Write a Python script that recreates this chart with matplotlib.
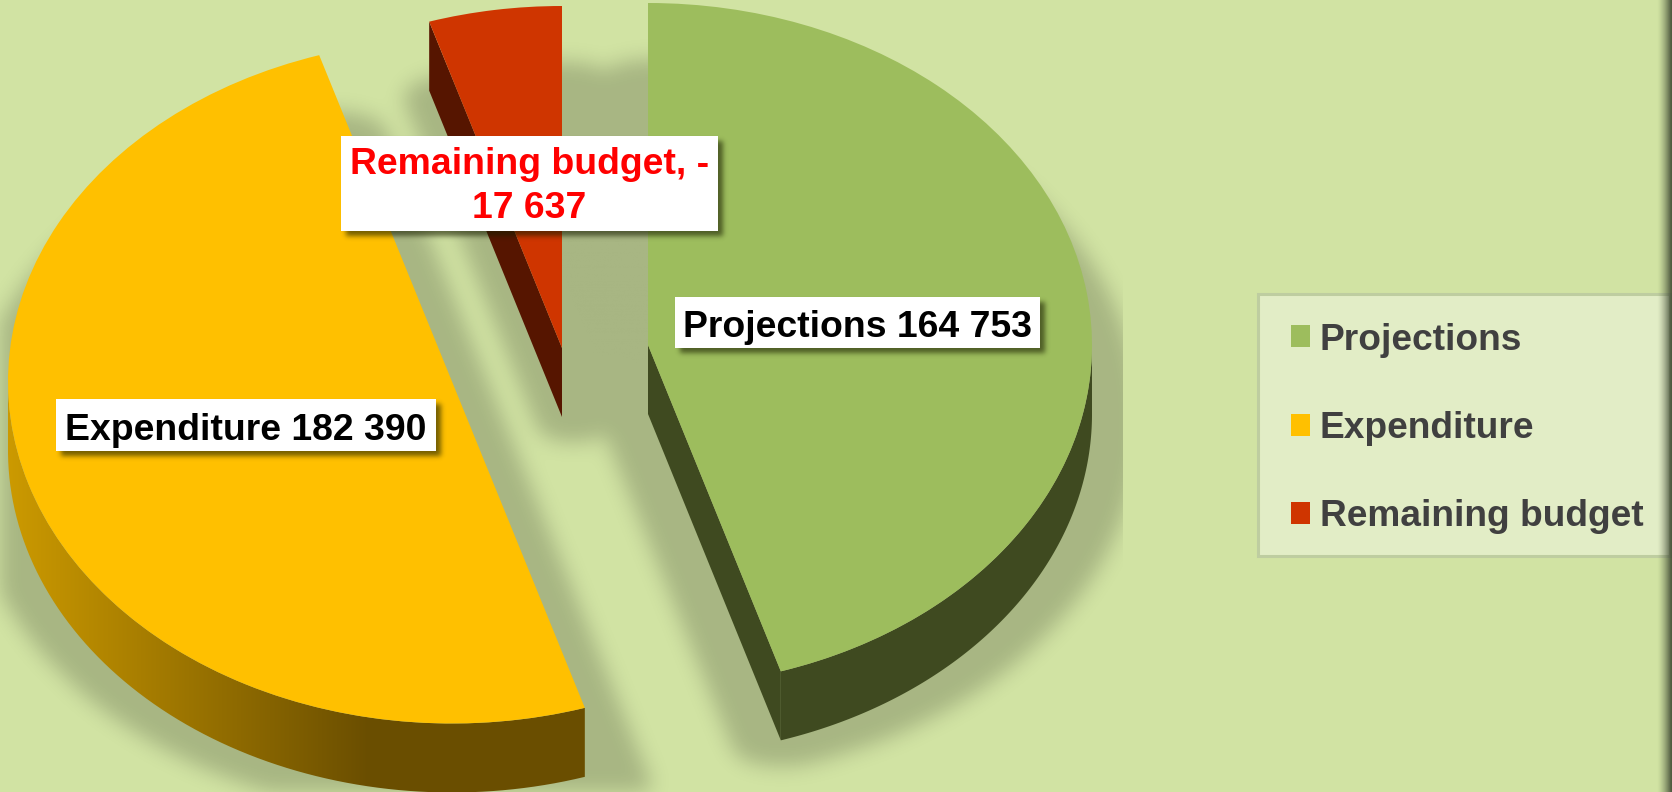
import numpy as np
import matplotlib
matplotlib.use("Agg")
import matplotlib.pyplot as plt
from matplotlib.patches import Patch, Rectangle, PathPatch
from matplotlib.path import Path
from matplotlib.transforms import Affine2D
from matplotlib.colors import to_rgb

# ---- data ----
categories = ["Projections", "Expenditure", "Remaining budget"]
values = [164753, 182390, -17637]
point_labels = ["Projections 164 753", "Expenditure 182 390", "Remaining budget, -\n17 637"]

# ---- style and layout (pixels of the 1672x792 picture) ----
W, H = 1672, 792
BG = "#D1E3A3"
top_colors = ["#9DBD5D", "#FFC000", "#CF3500"]
side_colors = ["#3F4A20", None, "#561500"]
label_colors = ["black", "black", "#FF0000"]
centers = [(648, 345), (452, 381.5), (562, 348)]
shadow_shift = [0, 12, 12]
shadow_spread = [48, 55, 38]
label_boxes = [(675, 297, 1040, 348), (56, 399, 436, 451), (341, 136, 718, 231)]
label_dy = [5, 5, 3]
RX, RY, DEPTH = 444, 342, 69
FS = 26.9

plt.rcParams["font.family"] = ["Liberation Sans", "DejaVu Sans"]
fig = plt.figure(figsize=(W / 100, H / 100), dpi=100, facecolor=BG)
ax = fig.add_axes([0, 0, 1, 1], facecolor=BG)

wedges, _ = ax.pie(np.abs(values), startangle=90, counterclock=False,
                   colors=top_colors, wedgeprops=dict(linewidth=0, zorder=3))
ax.set_aspect("auto")
ax.set_axis_on()
ax.set_frame_on(False)


def rim(c, t):
    return np.column_stack([c[0] + RX * np.cos(t), c[1] - RY * np.sin(t)])


def blur(arr, sigma=0.0, disk=(0.0, 0.0)):
    pad = 120
    a = np.pad(arr, pad)
    h, w = a.shape
    fy = np.fft.fftfreq(h)[:, None]
    fx = np.fft.rfftfreq(w)[None, :]
    F = np.fft.rfft2(a)
    if disk[0] > 0:
        yy = np.minimum(np.arange(h), h - np.arange(h))[:, None]
        xx = np.minimum(np.arange(w), w - np.arange(w))[None, :]
        k = ((xx / disk[0]) ** 2 + (yy / disk[1]) ** 2 <= 1).astype(float)
        d = np.fft.irfft2(F * np.fft.rfft2(k), s=a.shape)
        a = (d > 0.5).astype(float)
        F = np.fft.rfft2(a)
    if sigma > 0:
        F = F * np.exp(-2 * (np.pi * sigma) ** 2 * (fx ** 2 + fy ** 2))
    return np.fft.irfft2(F, s=a.shape)[pad:-pad, pad:-pad]


def mask_of(polys):
    X, Y = np.meshgrid(np.arange(W) + 0.5, np.arange(H) + 0.5)
    pts = np.column_stack([X.ravel(), Y.ravel()])
    m = np.zeros(H * W, dtype=bool)
    for p in polys:
        m |= Path(p).contains_points(pts)
    return m.reshape(H, W).astype(float)


def layer(alpha, z, rgb=(0, 0, 0)):
    im = np.zeros((H, W, 4))
    im[..., :3] = rgb
    im[..., 3] = alpha
    return ax.imshow(im, extent=(0, W, H, 0), aspect="auto", zorder=z,
                     interpolation="nearest")


# the unit-circle wedges from pie() become exploded, tilted faces
sh = np.zeros((H, W))
for w, c, side, dx, spread in zip(wedges, centers, side_colors, shadow_shift, shadow_spread):
    w.set_transform(Affine2D().scale(RX, -RY).translate(*c) + ax.transData)
    t = np.radians(np.linspace(w.theta1, w.theta2, 400))
    arc = rim(c, t)
    outline = np.vstack([[c], arc, [c]]) + [dx, DEPTH + 7]
    sh = np.maximum(sh, blur(mask_of([outline]), disk=(spread, 20)))
    front = arc[np.sin(t) <= 0]
    band = np.vstack([front, (front + [0, DEPTH])[::-1]]) if len(front) else None
    if side is None:
        # side wall shaded along x, dark towards the front
        x = np.arange(W) + 0.5
        f = np.clip((x - 8) / (370 - 8), 0, 1)[None, :, None]
        c0, c1 = np.array(to_rgb("#CC9A00")), np.array(to_rgb("#6A4E00"))
        grad = np.repeat(c0 * (1 - f) + c1 * f, H, axis=0)
        im = ax.imshow(grad, extent=(0, W, H, 0), aspect="auto", zorder=2)
        clip = PathPatch(Path(band), transform=ax.transData, facecolor="none", edgecolor="none")
        ax.add_patch(clip)
        im.set_clip_path(clip)
    else:
        faces = [] if band is None else [band]
        for end in (arc[0], arc[-1]):
            faces.append(np.array([c, end, end + [0, DEPTH], np.array(c) + [0, DEPTH]]))
        for poly in faces:
            ax.fill(poly[:, 0], poly[:, 1], color=side, lw=0, zorder=2)

# soft shadow of the pie on the background
sh = blur(sh, sigma=10)
sh[:, 1123:] = 0
layer(np.clip(sh, 0, 1) * 0.2, 1)

# data labels with their own small shadow
box_mask = mask_of([np.array([[x0 + 5, y0 + 5], [x1 + 5, y0 + 5], [x1 + 5, y1 + 5], [x0 + 5, y1 + 5]])
                    for x0, y0, x1, y1 in label_boxes])
layer(np.clip(blur(box_mask, sigma=2.5), 0, 1) * 0.6, 4, rgb=(0.1, 0.12, 0))
for (x0, y0, x1, y1), text, col, dy in zip(label_boxes, point_labels, label_colors, label_dy):
    ax.add_patch(Rectangle((x0, y0), x1 - x0, y1 - y0, facecolor="white", edgecolor="none", zorder=5))
    ax.text((x0 + x1) / 2, (y0 + y1) / 2 + dy, text, color=col, fontsize=FS, fontweight="bold",
            ha="center", va="center", linespacing=1.3, zorder=6)

# legend panel
ax.add_patch(Rectangle((1258, 294), 1670 - 1258, 556 - 294, facecolor="#E2EDC6",
                       edgecolor="#BECDA0", linewidth=2.2, zorder=4))
handles = [Patch(facecolor=c, edgecolor="none", label=n) for c, n in zip(top_colors, categories)]
leg = ax.legend(handles=handles, loc="upper left", bbox_to_anchor=(1291, 322.5),
                bbox_transform=ax.transData, frameon=False, borderpad=0, borderaxespad=0,
                labelcolor="#404040", handlelength=0.51, handleheight=0.53,
                handletextpad=0.26, labelspacing=1.44,
                prop=dict(weight="bold", size=26.7))
leg.set_zorder(7)

# dark strip at the right edge of the picture
x = np.arange(W) + 0.5
a = np.clip((x - 1657) / (1671 - 1657), 0, 1) ** 1.5 * 0.85
layer(np.tile(a, (H, 1)), 9, rgb=to_rgb("#3A4430"))

ax.set_xlim(0, W)
ax.set_ylim(H, 0)
ax.set_xticks([])
ax.set_yticks([])
fig.savefig("out.png", dpi=100, facecolor=BG)
